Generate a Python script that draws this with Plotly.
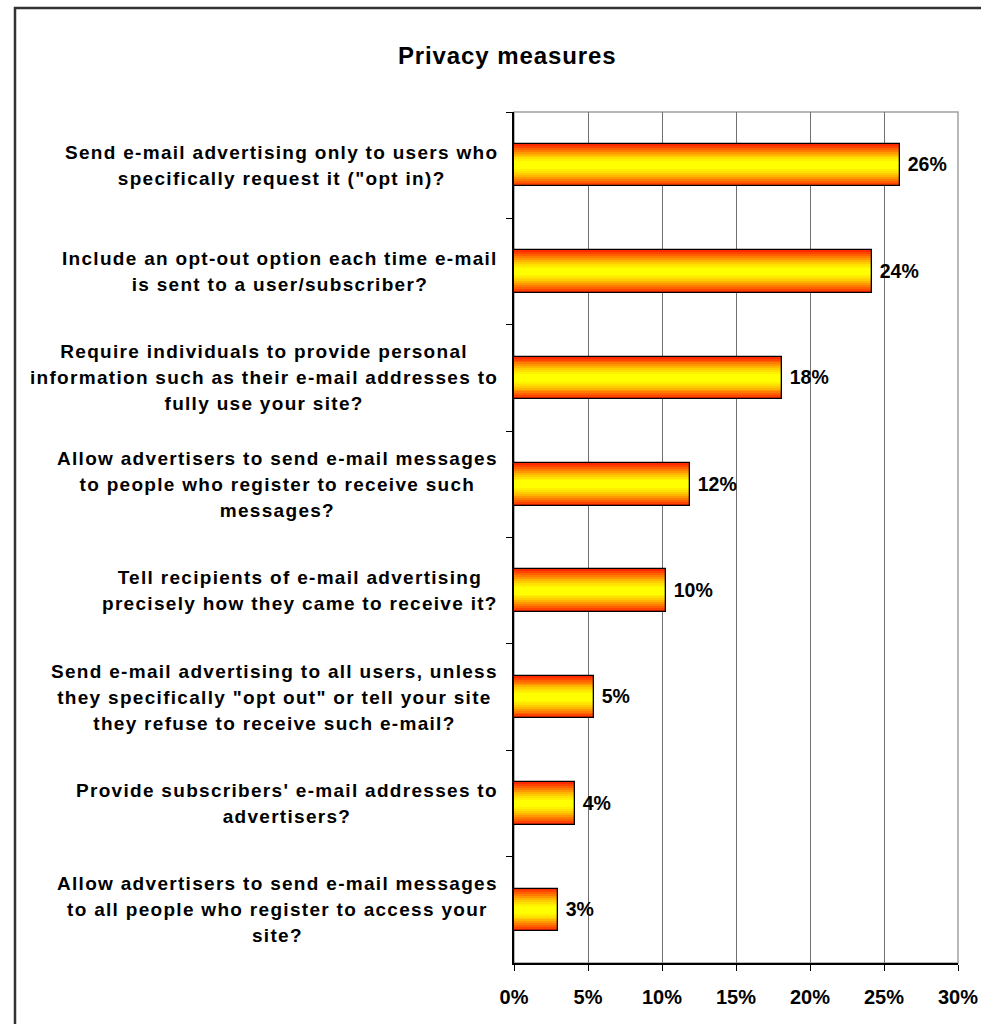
import plotly.graph_objects as go

# Survey answers, top to bottom
questions = [
    "Send e-mail advertising only to users who<br>specifically request it (\"opt in)?",
    "Include an opt-out option each time e-mail<br>is sent to a user/subscriber?",
    "Require individuals to provide personal<br>information such as their e-mail addresses to<br>fully use your site?",
    "Allow advertisers to send e-mail messages<br>to people who register to receive such<br>messages?",
    "Tell recipients of e-mail advertising<br>precisely how they came to receive it?",
    "Send e-mail advertising to all users, unless<br>they specifically \"opt out\" or tell your site<br>they refuse to receive such e-mail?",
    "Provide subscribers' e-mail addresses to<br>advertisers?",
    "Allow advertisers to send e-mail messages<br>to all people who register to access your<br>site?",
]
shares = [26.1, 24.2, 18.1, 11.9, 10.3, 5.4, 4.1, 3.0]
x_ticks = [0, 5, 10, 15, 20, 25, 30]

FONT = "Arial, 'Liberation Sans', sans-serif"
WIDE = "letter-spacing:{}px;font-size:{}px"
BAR_W = 0.40
# red edge -> yellow centre, painted as nested overlay bars
shades = ["#FF2A00", "#FF4400", "#FF6000", "#FF7C00", "#FF9800", "#FFB400",
          "#FFCC00", "#FFE000", "#FFF000", "#FFFF00", "#FFFF00"]

fig = go.Figure()
n = len(shades)
for i, c in enumerate(shades):
    fig.add_trace(go.Bar(
        x=shares, y=questions, orientation="h",
        width=BAR_W * (1 - i / n),
        marker=dict(color=c, line=dict(width=0)),
        hoverinfo="skip", showlegend=False,
    ))

# outline + value labels
fig.add_trace(go.Bar(
    x=shares, y=questions, orientation="h", width=BAR_W,
    marker=dict(color="rgba(0,0,0,0)", line=dict(color="#000000", width=1.3)),
    texttemplate=" %{x:.0f}%",
    textposition="outside",
    textfont=dict(family=FONT, size=19.5, color="#000000", weight="bold"),
    cliponaxis=False, showlegend=False,
))

# category labels, centred lines, right-aligned block
for q in questions:
    fig.add_annotation(
        x=0, xref="paper", y=q, yref="y", xanchor="right", yanchor="middle",
        xshift=-14, align="center", showarrow=False,
        text=f"<span style='{WIDE.format(1.3, 19)}'>{q}</span>",
        font=dict(family=FONT, size=20, color="#000000", weight="bold"),
    )

fig.update_layout(
    width=981, height=1024,
    margin=dict(l=514, r=23, t=112, b=61, autoexpand=False),
    paper_bgcolor="white", plot_bgcolor="white",
    barmode="overlay", bargap=0,
    title=dict(text=f"<span style='{WIDE.format(0.9, 24)}'>Privacy measures</span>",
               x=0.517, xanchor="center", y=0.946, yanchor="middle",
               font=dict(family=FONT, size=24, color="#000000", weight="bold")),
    font=dict(family=FONT, color="#000000"),
    shapes=[
        # light frame at the top and right of the plot area
        dict(type="rect", xref="paper", yref="paper", x0=0, x1=1, y0=0, y1=1,
             line=dict(color="#A0A0A0", width=1.5), layer="below"),
        # outer chart border
        dict(type="rect", xref="paper", yref="paper",
             x0=(15 - 514) / 444, x1=1.2, y0=-0.2, y1=1 + (112 - 8) / 851,
             line=dict(color="#333333", width=2.5)),
    ],
)

fig.update_xaxes(
    range=[0, 30], tickvals=x_ticks, ticktext=[f"{v}%" for v in x_ticks],
    showgrid=True, gridcolor="#707070", gridwidth=1,
    showline=True, linecolor="#000000", linewidth=1.5,
    ticks="outside", ticklen=6, tickcolor="#000000", ticklabelstandoff=9,
    tickfont=dict(family=FONT, size=20, color="#000000", weight="bold"),
    zeroline=False, fixedrange=True, automargin=False,
)
fig.update_yaxes(
    categoryorder="array", categoryarray=questions, autorange="reversed",
    showticklabels=False, tickson="boundaries", ticks="outside", ticklen=6,
    tickcolor="#000000", showline=True, linecolor="#000000", linewidth=1.5,
    showgrid=False, fixedrange=True, automargin=False,
)

fig.write_html("out.html")
